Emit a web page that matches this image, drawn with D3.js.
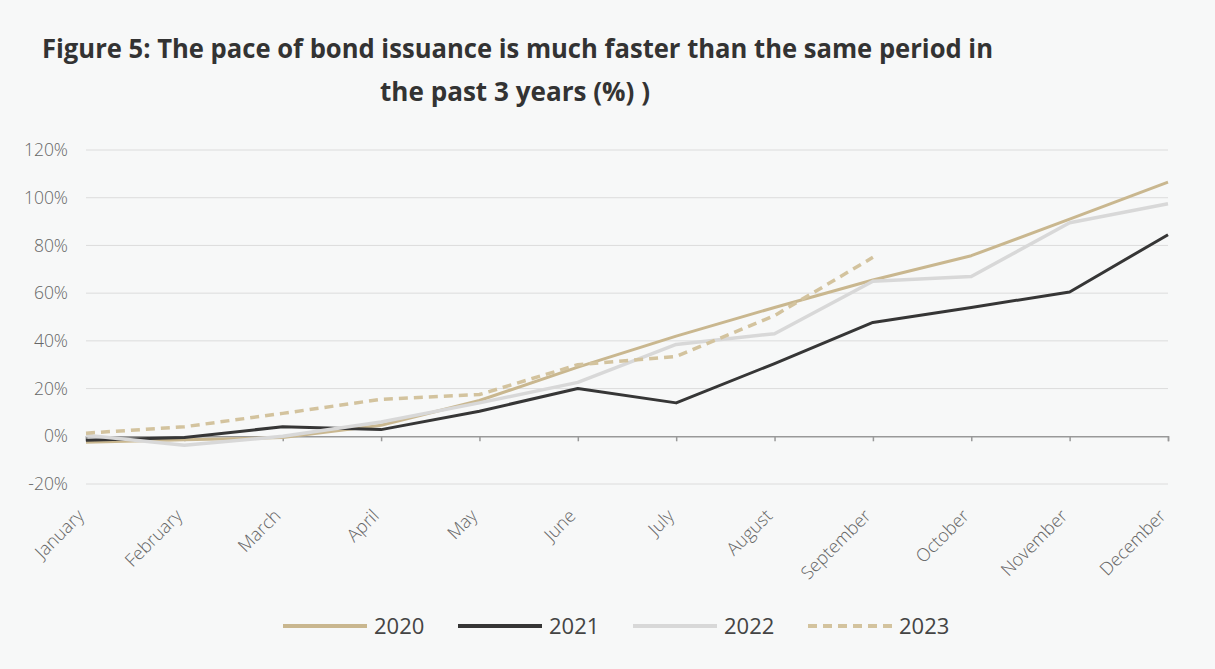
<!DOCTYPE html>
<html>
<head>
<meta charset="utf-8">
<script src="https://cdn.jsdelivr.net/npm/d3@7"></script>
<style>
  body { margin: 0; background: #f7f8f8; }
  svg { display: block; }
</style>
</head>
<body>
<div id="chart"></div>
<script>
const months = ["January", "February", "March", "April", "May", "June", "July",
  "August", "September", "October", "November", "December"];
const yTicks = [-20, 0, 20, 40, 60, 80, 100, 120];

const s2020 = [-2.5, -1.5, -0.5, 4.6, 15, 29, 42, 54, 65.5, 75.7, 91, 106.5];
const s2021 = [-1.7, -0.5, 4, 2.8, 10.5, 20, 14, 30.5, 47.7, 54, 60.5, 84.5];
const s2022 = [0.4, -3.8, 0, 6, 14, 22.6, 38.5, 43, 65, 67, 89.5, 97.5];
const s2023 = [1.3, 4, 9.6, 15.5, 17.5, 30, 33.5, 50.6, 75];

const series = [
  { name: "2020", values: s2020, color: "#c9b78f", width: 3, dash: null },
  { name: "2021", values: s2021, color: "#363636", width: 3, dash: null },
  { name: "2022", values: s2022, color: "#d8d8d8", width: 3.5, dash: null },
  { name: "2023", values: s2023, color: "#d3c39e", width: 3.5, dash: "9,6" }
];

const W = 1215, H = 669;
const svg = d3.select("#chart").append("svg")
  .attr("width", W).attr("height", H);

svg.append("rect").attr("width", W).attr("height", H).attr("fill", "#f7f8f8");

// Title
const title = svg.append("g")
  .attr("font-family", "'Open Sans', sans-serif")
  .attr("font-weight", 700)
  .attr("font-size", 27)
  .attr("fill", "#333");
title.append("text")
  .attr("x", 42).attr("y", 58)
  .attr("textLength", 951).attr("lengthAdjust", "spacingAndGlyphs")
  .text("Figure 5: The pace of bond issuance is much faster than the same period in");
title.append("text")
  .attr("x", 380).attr("y", 101)
  .attr("textLength", 270).attr("lengthAdjust", "spacingAndGlyphs")
  .text("the past 3 years (%) )");

const x = d3.scalePoint().domain(months).range([86, 1168]);
const y = d3.scaleLinear().domain([-20, 120]).range([484, 150]);

// Gridlines
svg.append("g")
  .selectAll("line")
  .data(yTicks.filter(d => d !== 0))
  .join("line")
  .attr("x1", x.range()[0]).attr("x2", x.range()[1])
  .attr("y1", d => y(d)).attr("y2", d => y(d))
  .attr("stroke", "#dcdcdc").attr("stroke-width", 1);

// Y axis labels
const yAxis = svg.append("g")
  .attr("transform", `translate(${x.range()[0]},0)`)
  .call(d3.axisLeft(y).tickValues(yTicks).tickSize(0).tickPadding(18)
    .tickFormat(d => d + "%"));
yAxis.select(".domain").remove();
yAxis.selectAll("text")
  .attr("font-family", "'Open Sans', sans-serif")
  .attr("font-weight", 300)
  .attr("font-size", 17.5)
  .attr("fill", "#666");

// Zero axis with ticks
const xAxis = svg.append("g")
  .attr("transform", `translate(0,${y(0)})`)
  .call(d3.axisBottom(x).tickSize(5).tickFormat(""));
xAxis.select(".domain").attr("stroke", "#999").attr("stroke-width", 1.5);
xAxis.selectAll(".tick line").attr("stroke", "#999").attr("stroke-width", 1.5);

// X labels at bottom
svg.append("g")
  .selectAll("text")
  .data(months)
  .join("text")
  .attr("transform", d => `translate(${x(d) - 1},${517}) rotate(-45)`)
  .attr("text-anchor", "end")
  .attr("font-family", "'Open Sans', sans-serif")
  .attr("font-weight", 300)
  .attr("font-size", 18)
  .attr("fill", "#666")
  .text(d => d);

// Lines
const line = d3.line()
  .x((d, i) => x(months[i]))
  .y(d => y(d));

svg.append("g")
  .selectAll("path")
  .data(series)
  .join("path")
  .attr("d", d => line(d.values))
  .attr("fill", "none")
  .attr("stroke", d => d.color)
  .attr("stroke-width", d => d.width)
  .attr("stroke-dasharray", d => d.dash)
  .attr("stroke-linejoin", "round");

// Legend
const legend = svg.append("g")
  .selectAll("g")
  .data(series)
  .join("g")
  .attr("transform", (d, i) => `translate(${283 + i * 175},626)`);
legend.append("line")
  .attr("x1", 0).attr("x2", 84)
  .attr("stroke", d => d.color)
  .attr("stroke-width", 4)
  .attr("stroke-dasharray", d => d.dash);
legend.append("text")
  .attr("x", 91).attr("y", 8)
  .attr("font-family", "'Open Sans', sans-serif")
  .attr("font-size", 22)
  .attr("fill", "#444")
  .text(d => d.name);
</script>
</body>
</html>
